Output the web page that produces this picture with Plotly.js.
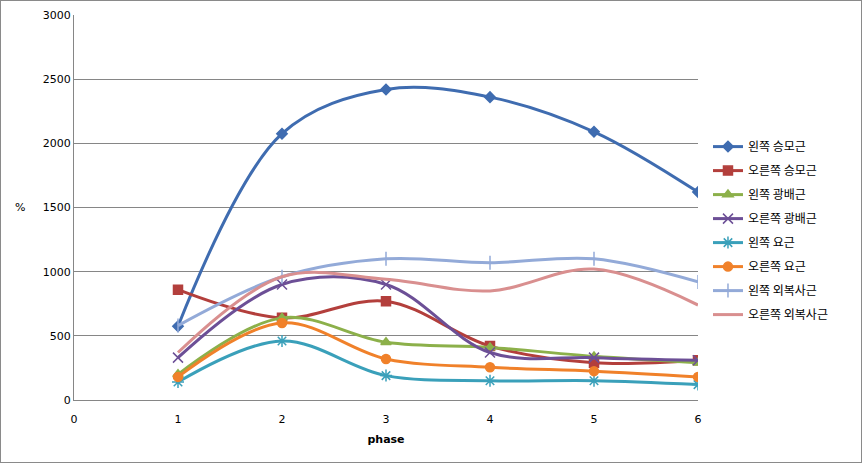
<!DOCTYPE html>
<html><head><meta charset="utf-8">
<script src="https://cdn.plot.ly/plotly-3.0.1.min.js"></script>
<style>
html,body{margin:0;padding:0;background:#fff;}
#chart{width:860px;height:461px;border:1px solid #8a8a8a;}
</style>
</head><body><div id="chart"></div>
<script>
const phases = [1, 2, 3, 4, 5, 6];
const seriesNames = ['왼쪽 승모근','오른쪽 승모근','왼쪽 광배근','오른쪽 광배근','왼쪽 요근','오른쪽 요근','왼쪽 외복사근','오른쪽 외복사근'];
const leftTrapezius   = [575, 2075, 2420, 2360, 2090, 1620];
const rightTrapezius  = [860, 640, 770, 420, 290, 310];
const leftLatissimus  = [200, 640, 450, 410, 340, 290];
const rightLatissimus = [330, 900, 900, 370, 330, 310];
const leftPsoas       = [140, 460, 190, 150, 150, 120];
const rightPsoas      = [180, 600, 320, 255, 225, 180];
const leftOblique     = [580, 960, 1100, 1070, 1100, 920];
const rightOblique    = [370, 960, 940, 850, 1020, 740];
const allValues = [leftTrapezius,rightTrapezius,leftLatissimus,rightLatissimus,leftPsoas,rightPsoas,leftOblique,rightOblique];
const colors = ['#3F6CB0','#B33F3C','#8CB04A','#6C4F96','#3AA0BA','#F0812A','#93AAD8','#D98F8F'];
const symbols = ['diamond','square','triangle-up','x-thin-open','asterisk-open','circle','line-ns-open','circle'];
const msizes = [8,9,9,10,10,9,10,0];

const traces = allValues.map((v,i)=>({
  x: phases, y: v, name: seriesNames[i], type:'scatter', mode: msizes[i] ? 'lines+markers' : 'lines',
  legendgroup: 'g'+i,
  line:{color:colors[i], width:3, shape:'spline', smoothing:1},
  marker:{symbol:symbols[i], size:msizes[i], color:colors[i], line:{color:colors[i], width:1.5}}
}));

const layout = {
  width:860, height:461,
  margin:{l:73, r:163, t:14, b:62},
  paper_bgcolor:'#fff', plot_bgcolor:'#fff',
  font:{family:'DejaVu Sans, Verdana, sans-serif', size:11, color:'#000'},
  xaxis:{range:[0,6], tickvals:[0,1,2,3,4,5,6], showgrid:false, zeroline:false,
    showline:true, linecolor:'#868686', linewidth:1, ticks:'', ticklen:0, ticklabelstandoff:9,
    tickfont:{size:11}, title:{text:'<b>phase</b>', font:{size:11}, standoff:10}},
  yaxis:{range:[0,3000], dtick:500, showgrid:true, gridcolor:'#868686', gridwidth:1,
    zeroline:false, showline:true, linecolor:'#868686', ticks:'', tickfont:{size:11}},
  showlegend:true,
  legend:{x:1.016, xanchor:'left', y:0.44, yanchor:'middle', traceorder:'grouped', tracegroupgap:5,
    font:{family:'Noto Sans CJK KR, sans-serif', size:12, color:'#000'}, itemwidth:30, bgcolor:'rgba(0,0,0,0)'},
  annotations:[{xref:'paper', yref:'paper', x:-0.075, y:0.5, text:'%', showarrow:false, xanchor:'right', yanchor:'middle', font:{size:11}}]
};
Plotly.newPlot('chart', traces, layout, {displayModeBar:false, staticPlot:true});
</script></body></html>
